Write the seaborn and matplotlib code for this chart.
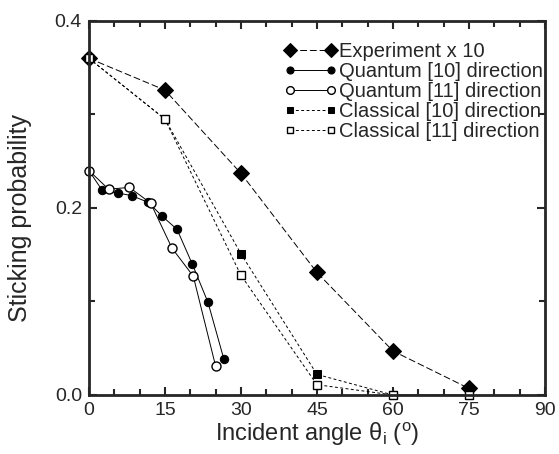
import numpy as np
import pandas as pd
import seaborn as sns
import matplotlib.pyplot as plt
from matplotlib.ticker import MultipleLocator

# Experiment x 10
exp_angle = [0, 15, 30, 45, 60, 75]
exp_prob = [0.360, 0.326, 0.237, 0.131, 0.047, 0.007]

# Quantum [10] direction
q10_angle = [0, 2.6, 5.8, 8.5, 11.7, 14.5, 17.4, 20.4, 23.5, 26.6]
q10_prob = [0.240, 0.219, 0.216, 0.213, 0.206, 0.191, 0.177, 0.140, 0.099, 0.039]

# Quantum [11] direction
q11_angle = [0, 3.9, 8.0, 12.2, 16.4, 20.6, 25.0]
q11_prob = [0.240, 0.220, 0.222, 0.205, 0.157, 0.127, 0.031]

# Classical [10] direction
c10_angle = [0, 15, 30, 45, 60, 75]
c10_prob = [0.360, 0.295, 0.151, 0.022, 0.0, 0.0]

# Classical [11] direction
c11_angle = [0, 15, 30, 45, 60, 75]
c11_prob = [0.360, 0.295, 0.128, 0.011, 0.0, 0.0]

sns.set_style('ticks')
plt.rcParams['font.family'] = ['Liberation Sans', 'DejaVu Sans']
plt.rcParams['mathtext.fontset'] = 'custom'
plt.rcParams['mathtext.rm'] = 'Liberation Sans'
plt.rcParams['mathtext.it'] = 'Liberation Sans'
plt.rcParams['mathtext.default'] = 'regular'

fig = plt.figure(figsize=(5.59, 4.54), dpi=100)
ax = fig.add_axes([0.159, 0.130, 0.816, 0.824])

sns.lineplot(x=exp_angle, y=exp_prob, ax=ax, color='black', lw=0.7,
             linestyle=(0, (7, 3)), marker='D', markersize=8.5,
             markeredgecolor='black', label='Experiment x 10', clip_on=False)
sns.lineplot(x=q10_angle, y=q10_prob, ax=ax, color='black', lw=0.7,
             marker='o', markersize=6, markerfacecolor='black',
             markeredgecolor='black', label='Quantum [10] direction', clip_on=False)
sns.lineplot(x=q11_angle, y=q11_prob, ax=ax, color='black', lw=0.7,
             marker='o', markersize=6.5, markerfacecolor='white',
             markeredgecolor='black', markeredgewidth=1.0,
             label='Quantum [11] direction', clip_on=False)
sns.lineplot(x=c10_angle, y=c10_prob, ax=ax, color='black', lw=0.7,
             linestyle=(0, (3, 2.5)), marker='s', markersize=5.5,
             markerfacecolor='black', markeredgecolor='black',
             label='Classical [10] direction', clip_on=False)
sns.lineplot(x=c11_angle, y=c11_prob, ax=ax, color='black', lw=0.7,
             linestyle=(0, (3, 2.5)), marker='s', markersize=5.5,
             markerfacecolor='white', markeredgecolor='black', markeredgewidth=1.0,
             label='Classical [11] direction', clip_on=False)

ax.set_xlim(0, 90)
ax.set_ylim(0, 0.4)
ax.xaxis.set_major_locator(MultipleLocator(15))
ax.xaxis.set_minor_locator(MultipleLocator(5))
ax.yaxis.set_major_locator(MultipleLocator(0.2))
ax.yaxis.set_minor_locator(MultipleLocator(0.1))
ax.yaxis.set_major_formatter(plt.FormatStrFormatter('%.1f'))
ax.tick_params(which='both', direction='in', top=True, right=True,
               labeltop=False, labelright=False, width=1.5, labelsize=14)
ax.tick_params(which='major', length=6, pad=5)
ax.tick_params(which='minor', length=4)
for s in ax.spines.values():
    s.set_linewidth(2)
    s.set_visible(True)

ax.set_xlabel(r'Incident angle $\theta_{i}$ ($^{o}$)', fontsize=17, labelpad=1)
ax.set_ylabel('Sticking probability', fontsize=18)
ax.yaxis.set_label_coords(-0.125, 0.472)

ax.legend(loc='upper right', frameon=False, numpoints=2, handlelength=2.6,
          handletextpad=0.1, labelspacing=0.05, fontsize=14.5, markerscale=0.85,
          borderaxespad=0, bbox_to_anchor=(1.012, 0.965))

fig.savefig('out.png', dpi=100)
